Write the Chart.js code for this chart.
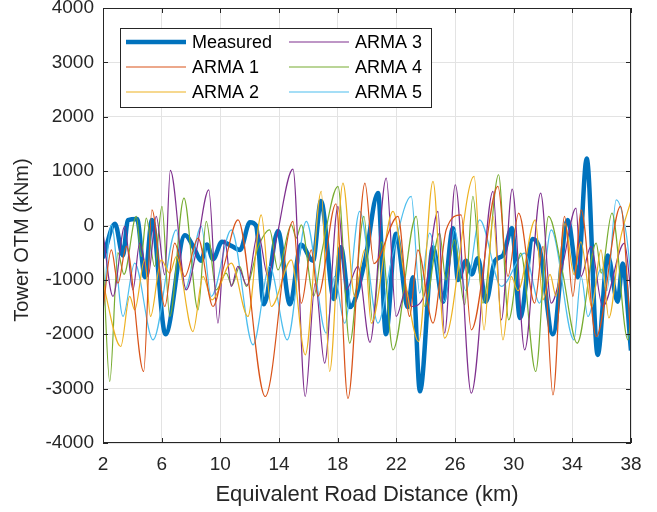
<!DOCTYPE html>
<html>
<head>
<meta charset="utf-8">
<script src="https://cdn.jsdelivr.net/npm/chart.js@4.4.1/dist/chart.umd.min.js"></script>
<style>
  html, body { margin: 0; padding: 0; background: #fff; }
</style>
</head>
<body>
<canvas id="otmChart" width="657" height="512"></canvas>
<script>
// Turning points: distance (km) and tower OTM (kNm)
const measuredKm  = [2.00, 2.82, 3.36, 3.70, 4.32, 4.86, 5.34, 6.26, 7.59, 8.27, 8.68, 9.09, 9.50, 10.11, 10.79, 11.34, 12.02, 12.43, 12.97, 13.93, 14.75, 15.50, 16.32, 16.86, 17.75, 18.22, 18.84, 19.86, 20.75, 21.29, 21.97, 22.79, 23.13, 23.61, 24.50, 25.18, 25.86, 26.20, 26.75, 27.15, 27.56, 28.11, 28.72, 29.27, 29.88, 30.43, 31.31, 31.79, 32.67, 33.69, 34.37, 34.98, 35.73, 36.41, 37.09, 37.43, 38.00];
const measuredVal = [-600, 30, -550, 100, 120, -950, 100, -2000, -180, -450, -650, -350, -620, -300, -380, -450, 60, 0, -1450, -100, -1450, -350, -650, 450, -1350, -400, -1500, -650, 600, -2000, -150, -1500, -950, -3050, -400, -1400, -50, -1000, -650, -900, -600, -1400, -650, -550, -50, -1700, -250, -450, -2000, 100, -950, 1230, -2380, -550, -1400, -700, -2300];

const arma1Km  = [2.00, 2.57, 3.02, 3.59, 4.77, 5.34, 6.21, 6.89, 7.57, 8.48, 9.50, 10.30, 11.20, 13.06, 14.95, 15.52, 16.20, 16.66, 17.88, 18.70, 19.86, 20.47, 22.11, 22.91, 23.47, 24.50, 25.40, 26.42, 27.11, 28.93, 29.61, 30.34, 31.43, 32.00, 32.68, 33.47, 34.04, 34.60, 35.63, 37.29, 38.00];
const arma1Val = [-1550, -450, -1060, -385, -2685, 290, -1490, -324, -937, -232, -1490, -692, 105, -3145, 75, -1430, -450, -1300, 400, -3180, 780, -700, 167, -1673, -447, -1796, -79, 197, -1919, 718, -937, 228, -1428, -385, -3115, 166, -1305, 289, -2041, 350, -2103];

const arma2Km  = [2.00, 3.21, 3.82, 4.16, 4.84, 5.24, 5.97, 6.55, 7.00, 8.13, 8.82, 9.43, 10.75, 11.88, 12.79, 13.47, 14.84, 15.79, 16.88, 17.45, 18.36, 19.16, 19.84, 20.29, 21.77, 22.59, 23.52, 24.50, 25.29, 27.30, 27.98, 28.59, 29.27, 29.83, 30.29, 31.47, 32.00, 32.48, 32.89, 33.50, 34.11, 34.58, 35.33, 35.95, 36.49, 37.24, 38.00];
const arma2Val = [-1060, -2225, -1305, -1551, -631, -1673, -631, -876, -570, -1950, -937, -1367, -692, -1673, 197, -1490, -631, -2379, 626, -2685, 780, -1305, -447, -1796, 258, -1000, -2134, 810, -2072, 902, -1919, 166, -2103, -937, -1200, 105, -1367, -900, -1300, 40, -900, -300, -1500, -450, -1700, -300, 460];

const arma3Km  = [2.00, 2.68, 3.48, 4.04, 4.50, 5.07, 5.63, 6.21, 6.59, 7.68, 8.34, 9.21, 9.84, 10.30, 10.75, 11.20, 11.82, 12.57, 13.25, 13.81, 14.95, 15.79, 16.47, 17.11, 18.02, 18.58, 19.38, 20.20, 21.31, 21.99, 22.67, 23.02, 23.88, 24.84, 25.29, 26.02, 27.11, 28.59, 29.16, 29.90, 30.75, 31.84, 32.56, 33.36, 34.25, 34.59, 35.27, 36.07, 37.55, 38.00];
const arma3Val = [-140, -1305, -17, -1183, -324, -937, 166, -907, 1013, -1183, -500, 657, -1796, -263, -1121, -753, -1100, -140, -937, -263, 1037, -3145, -1060, -2532, 350, -1183, -753, -2150, 872, -1673, -1183, -1490, -1300, 258, -1980, 749, -3084, 626, -1735, 669, -2287, 596, -1428, -700, 320, -937, -385, -1490, -324, -1244];

const arma4Km  = [2.00, 2.46, 3.02, 3.43, 4.27, 4.61, 4.95, 5.52, 6.02, 6.55, 7.52, 8.48, 9.04, 9.72, 10.40, 10.79, 11.32, 11.77, 12.57, 13.36, 13.93, 14.84, 15.18, 15.52, 16.36, 16.91, 18.02, 18.82, 19.79, 20.40, 20.99, 21.77, 23.36, 23.93, 24.95, 25.38, 25.97, 26.66, 27.22, 27.90, 28.97, 29.66, 30.48, 31.50, 32.38, 33.29, 34.33, 35.63, 35.97, 36.70, 37.79, 38.00];
const arma4Val = [-570, -2869, -500, -900, 166, -570, 135, -753, 350, -1673, 504, -1551, 75, -1183, -876, -1100, -753, -1121, -400, -79, -815, 13, -232, 13, -1300, -500, 718, -2164, 166, -1796, -300, -2287, 166, -1490, -140, -1000, -263, -1459, 534, -1428, 933, -1735, -508, -2685, 166, -800, -2164, -324, -876, 228, -2103, -1700];

const arma5Km  = [2.00, 2.57, 3.36, 4.16, 5.41, 7.00, 7.57, 8.70, 9.38, 10.75, 12.23, 13.36, 14.56, 15.86, 17.22, 17.79, 18.48, 19.50, 20.75, 21.70, 23.02, 23.59, 24.27, 25.29, 25.97, 26.74, 27.68, 29.16, 30.75, 31.77, 32.56, 34.11, 34.60, 35.06, 35.95, 36.36, 36.99, 37.67, 38.00];
const arma5Val = [-1612, 13, -1673, -692, -2103, -79, -1183, -17, -1305, -79, -2195, -753, -2103, 75, -1980, -937, -1796, 258, -1796, -600, 534, -1244, -140, -1397, -79, -1200, 105, -1121, -508, -1428, -79, -2103, -937, -1673, -800, -1200, 473, -140, -937];

const seriesNames  = ['Measured', 'ARMA 1', 'ARMA 2', 'ARMA 3', 'ARMA 4', 'ARMA 5'];
const seriesColors = ['#0072BD', '#D95319', '#EDB120', '#7E2F8E', '#77AC30', '#4DBEEE'];
const yTitle = 'Tower OTM (kNm)';

const axisColor = '#262626';
const fontFamily = "'Liberation Sans', Arial, Helvetica, sans-serif";

function pts(xs, ys) {
  return xs.map((x, i) => ({ x: x, y: ys[i] }));
}

const seriesData = [
  pts(measuredKm, measuredVal),
  pts(arma1Km, arma1Val),
  pts(arma2Km, arma2Val),
  pts(arma3Km, arma3Val),
  pts(arma4Km, arma4Val),
  pts(arma5Km, arma5Val)
];

const datasets = seriesData.map((d, i) => ({
  label: seriesNames[i],
  data: d,
  borderColor: seriesColors[i],
  borderWidth: i === 0 ? 4.5 : 1.2,
  pointRadius: 0,
  fill: false,
  cubicInterpolationMode: 'monotone',
  order: i === 0 ? 1 : 0   // measured underneath, like the first plotted line
}));

// axes box with inward ticks, y label and the legend inside the plot
const boxAndLegend = {
  id: 'boxAndLegend',
  afterDatasetsDraw(chart) {
    const ctx = chart.ctx;
    const a = chart.chartArea;
    const xs = chart.scales.x, ys = chart.scales.y;
    ctx.save();
    ctx.strokeStyle = axisColor;
    ctx.lineWidth = 1;
    ctx.strokeRect(a.left + 0.5, a.top + 0.5, a.right - a.left - 1, a.bottom - a.top - 1);
    ctx.beginPath();
    xs.ticks.forEach(t => {
      const px = Math.round(xs.getPixelForValue(t.value)) + 0.5;
      ctx.moveTo(px, a.bottom); ctx.lineTo(px, a.bottom - 5);
      ctx.moveTo(px, a.top); ctx.lineTo(px, a.top + 5);
    });
    ys.ticks.forEach(t => {
      const py = Math.round(ys.getPixelForValue(t.value)) + 0.5;
      ctx.moveTo(a.left, py); ctx.lineTo(a.left + 5, py);
      ctx.moveTo(a.right, py); ctx.lineTo(a.right - 5, py);
    });
    ctx.stroke();

    // y axis label, sits a bit below the axis centre in the original
    ctx.save();
    ctx.translate(22, 240);
    ctx.rotate(-Math.PI / 2);
    ctx.font = '20px ' + fontFamily;
    ctx.fillStyle = axisColor;
    ctx.textAlign = 'center';
    ctx.textBaseline = 'middle';
    ctx.fillText(yTitle, 0, 0);
    ctx.restore();

    // legend
    const bx = 120, by = 28, bw = 311, bh = 79;
    ctx.fillStyle = '#fff';
    ctx.fillRect(bx, by, bw, bh);
    ctx.strokeRect(bx + 0.5, by + 0.5, bw, bh);
    ctx.font = '18px ' + fontFamily;
    ctx.textBaseline = 'middle';
    ctx.textAlign = 'left';
    const colX = [126, 289];
    const rowY = [42, 67, 92];
    seriesNames.forEach((name, i) => {
      const c = Math.floor(i / 3), r = i % 3;
      const lx = colX[c], ly = rowY[r];
      ctx.strokeStyle = seriesColors[i];
      ctx.lineWidth = i === 0 ? 4.5 : 1.2;
      ctx.beginPath();
      ctx.moveTo(lx, ly); ctx.lineTo(lx + 60, ly);
      ctx.stroke();
      ctx.fillStyle = '#000';
      ctx.fillText(name, lx + 66, ly + 1);
    });
    ctx.restore();
  }
};

const config = {
  type: 'line',
  data: { datasets: datasets },
  options: {
    responsive: false,
    animation: false,
    devicePixelRatio: 1,
    layout: { padding: { top: 8, right: 26, left: 0, bottom: 0 } },
    plugins: {
      legend: { display: false },
      tooltip: { enabled: false }
    },
    scales: {
      x: {
        type: 'linear',
        min: 2,
        max: 38,
        afterFit: s => { s.height = 69; },
        ticks: {
          stepSize: 4,
          color: axisColor,
          padding: 10,
          font: { family: fontFamily, size: 19 },
          callback: v => String(v)
        },
        grid: { color: '#e3e3e3', drawTicks: false },
        border: { display: false },
        title: {
          display: true,
          text: 'Equivalent Road Distance (km)',
          color: axisColor,
          font: { family: fontFamily, size: 22 },
          padding: { top: 0, bottom: 4 }
        }
      },
      y: {
        min: -4000,
        max: 4000,
        afterFit: s => { s.width = 103; s.paddingTop = 0; s.paddingBottom = 0; },
        ticks: {
          stepSize: 1000,
          color: axisColor,
          padding: 9,
          font: { family: fontFamily, size: 19 },
          callback: v => String(v)
        },
        grid: { color: '#e3e3e3', drawTicks: false },
        border: { display: false }
      }
    }
  },
  plugins: [boxAndLegend]
};

const ctx = document.getElementById('otmChart').getContext('2d');
new Chart(ctx, config);
</script>
</body>
</html>
